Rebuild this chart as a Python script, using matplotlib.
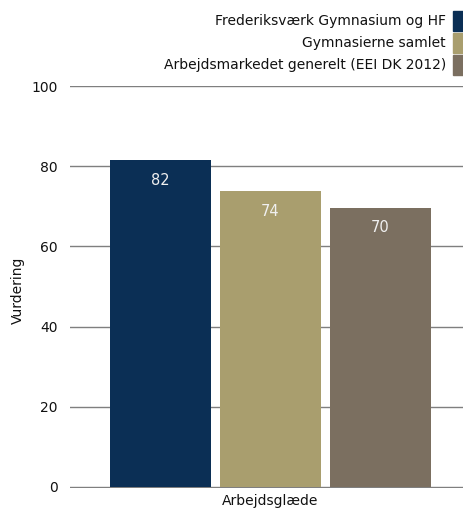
import matplotlib
matplotlib.use("Agg")
import matplotlib.pyplot as plt
from matplotlib.patches import Rectangle

# data
series = ["Frederiksværk Gymnasium og HF", "Gymnasierne samlet",
          "Arbejdsmarkedet generelt (EEI DK 2012)"]
values = [81.5, 73.8, 69.6]
value_labels = ["82", "74", "70"]
colors = ["#0b2f55", "#a99e6e", "#7b6f60"]
category = "Arbejdsglæde"
yticks = [0, 20, 40, 60, 80, 100]

W, H = 464, 511
fig = plt.figure(figsize=(W / 100, H / 100), dpi=100)
ax = fig.add_axes([70 / W, 1 - 488 / H, (W - 70) / W, (488 - 86) / H])

xpos = [0, 1, 2]
bars = ax.bar(xpos, values, width=0.918, color=colors, zorder=2)
for b, lab in zip(bars, value_labels):
    ax.text(b.get_x() + b.get_width() / 2, b.get_height() - 5, lab,
            ha="center", va="center", color="#f0f0f0", fontsize=10.5, zorder=3)

ax.set_xlim(-0.823, 2.759)
ax.set_ylim(-0.25, 100)
ax.set_yticks(yticks)
ax.yaxis.grid(True, color="#7f7f7f", lw=1)
ax.set_axisbelow(True)
for s in ax.spines.values():
    s.set_visible(False)
ax.tick_params(axis="y", length=0, pad=9, labelsize=10, labelcolor="#111111")
ax.set_xticks([1])
ax.set_xticklabels([category])
ax.tick_params(axis="x", length=0, pad=4, labelsize=10, labelcolor="#111111")
fig.text(18 / W, 1 - 290 / H, "Vurdering", rotation=90, ha="center",
         va="center", fontsize=10, color="#111111")

# legend drawn manually, right aligned
for i, (name, c) in enumerate(zip(series, colors)):
    yc = 21 + 22 * i
    fig.text(446 / W, 1 - yc / H, name, ha="right", va="center",
             fontsize=10, color="#111111")
    fig.patches.append(Rectangle((453 / W, 1 - (yc + 10) / H), 11 / W, 20 / H,
                                 transform=fig.transFigure, color=c))

fig.savefig("out.png", dpi=100)
